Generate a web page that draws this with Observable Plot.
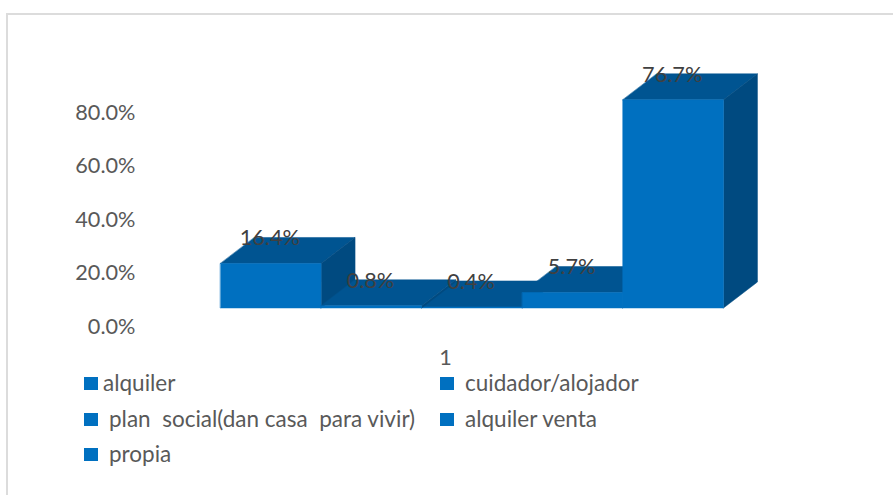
<!DOCTYPE html>
<html>
<head>
<meta charset="utf-8">
<script src="https://cdn.jsdelivr.net/npm/d3@7"></script>
<script src="https://cdn.jsdelivr.net/npm/@observablehq/plot@0.6"></script>
<style>
  html, body { margin: 0; padding: 0; background: #fff; overflow: hidden; }
  #chart { position: relative; width: 893px; height: 495px; font-family: Lato, sans-serif; }
  #chart svg { position: absolute; left: 0; top: 0; background: transparent; }
  #frame { position: absolute; left: 6px; top: 13px; width: 893px; height: 500px; border: 2px solid #dcdcdc; box-sizing: border-box; }
  .lg { position: absolute; white-space: pre; font-size: 22.5px; line-height: 24px; color: #595959; }
  .sw { position: absolute; width: 14px; height: 13px; background: #0070c0; }
</style>
</head>
<body>
<div id="chart"><div id="frame"></div></div>
<script>
const categories = ["alquiler", "cuidador/alojador", "plan  social(dan casa  para vivir)", "alquiler venta", "propia"];
const values = [16.4, 0.8, 0.4, 5.7, 76.7];
const tickValues = [0, 20, 40, 60, 80];
const axisCategory = ["1"];

const frontColor = "#0070c0", topColor = "#005491", sideColor = "#004a80";
const depthX = 0.3376, depthY = 9.58;   // oblique 3-D offset, in data units
const drawOrder = [0, 2, 1, 3, 4];      // the reference paints the 0.8% bar's side over its neighbour

const faces = [];
drawOrder.forEach((i) => {
  const v = values[i];
  const add = (face, color, pts) => pts.forEach(([x, y]) => faces.push({id: `${i}-${face}`, color, x, y}));
  add("top", topColor, [[i, v], [i + 1, v], [i + 1 + depthX, v + depthY], [i + depthX, v + depthY]]);
  add("side", sideColor, [[i + 1, 0], [i + 1 + depthX, depthY], [i + 1 + depthX, v + depthY], [i + 1, v]]);
  add("front", frontColor, [[i, 0], [i + 1, 0], [i + 1, v], [i, v]]);
});

const chart = document.getElementById("chart");

// Bars
chart.appendChild(Plot.plot({
  width: 893, height: 495,
  margin: 0,
  style: {background: "transparent", fontFamily: "Lato, sans-serif"},
  x: {domain: [0, 5], range: [220, 723], axis: null},
  y: {domain: [0, 76.7], range: [307.5, 99.3], axis: null},
  marks: [
    Plot.line(faces, {x: "x", y: "y", z: "id", fill: "color", stroke: "color", strokeWidth: 0.5, curve: "linear-closed"}),
    Plot.text(values, {
      x: (d, i) => i + 0.5,
      y: (d) => d + depthY,
      text: (d) => d.toFixed(1) + "%",
      fontSize: 21.7,
      fill: "#404040",
      dx: -1,
      dy: 1
    })
  ]
}));

// Axes: the value labels sit on their own scale, apart from the bars' floor
chart.appendChild(Plot.plot({
  width: 893, height: 495,
  marginLeft: 135, marginTop: 0, marginRight: 0, marginBottom: 146,
  style: {background: "transparent", fontFamily: "Lato, sans-serif", color: "#595959"},
  x: {type: "point", domain: axisCategory, range: [445, 445]},
  y: {domain: [0, 80], range: [326.5, 112.5]},
  marks: [
    Plot.axisY(tickValues, {tickSize: 0, tickPadding: 0, tickFormat: (d) => d.toFixed(1) + "%", fontSize: 21.7, fill: "#595959", label: null}),
    Plot.axisX({tickSize: 0, tickPadding: 0, fontSize: 21.7, fill: "#595959", label: null})
  ]
}));

// Legend
const legendSlots = [
  {sx: 84, sy: 377, tx: 103, ty: 371},
  {sx: 440, sy: 377, tx: 465, ty: 371},
  {sx: 84, sy: 413, tx: 109, ty: 407},
  {sx: 440, sy: 413, tx: 465, ty: 407},
  {sx: 84, sy: 448, tx: 109, ty: 442}
];
categories.forEach((name, i) => {
  const p = legendSlots[i];
  const sw = document.createElement("div");
  sw.className = "sw"; sw.style.left = p.sx + "px"; sw.style.top = p.sy + "px";
  const t = document.createElement("div");
  t.className = "lg"; t.style.left = p.tx + "px"; t.style.top = p.ty + "px"; t.textContent = name;
  chart.append(sw, t);
});
</script>
</body>
</html>
